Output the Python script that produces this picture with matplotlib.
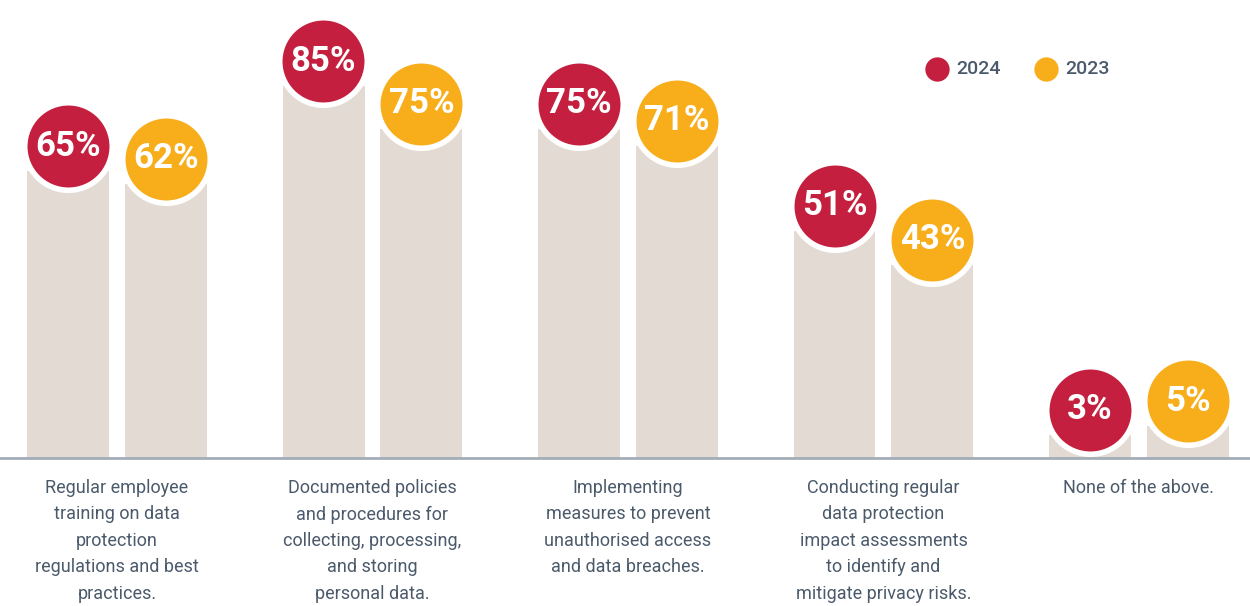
import numpy as np
import matplotlib
matplotlib.use('Agg')
import matplotlib.pyplot as plt
from matplotlib.transforms import offset_copy

plt.rcParams['font.family'] = ['Roboto', 'DejaVu Sans']

categories = ['Regular employee\ntraining on data\nprotection\nregulations and best\npractices.',
              'Documented policies\nand procedures for\ncollecting, processing,\nand storing\npersonal data.',
              'Implementing\nmeasures to prevent\nunauthorised access\nand data breaches.',
              'Conducting regular\ndata protection\nimpact assessments\nto identify and\nmitigate privacy risks.',
              'None of the above.']
years = ['2024', '2023']
vals_2024 = [65, 85, 75, 51, 3]
vals_2023 = [62, 75, 71, 43, 5]

red = '#c41f3e'
yellow = '#f8ae1b'
bar_col = '#e3dbd3'
txt_col = '#4b5a6b'
line_col = '#a3adb8'

W, H = 1250, 606
fig = plt.figure(figsize=(W / 100, H / 100), dpi=100)
ax = fig.add_axes([0, 0, 1, 1])

spacing = 255.5          # px between groups
s = 4.25                 # px per percent
pad = 2.5                # bars start a little below zero
base_px = 148            # baseline height above bottom of image
x0 = 117                 # px of first group centre

ax.set_xlim(-x0 / spacing, (W - x0) / spacing)
ax.set_ylim(-pad - base_px / s, -pad + (H - base_px) / s)
ax.axis('off')

x = np.arange(len(categories))
bw = 82 / spacing
off = 49 / spacing

# circles sit a bit above the top of each bar
circ_tr = offset_copy(ax.transData, fig=fig, x=0, y=25, units='dots')

for vals, dx, col in [(vals_2024, -off, red), (vals_2023, off, yellow)]:
    v = np.array(vals, dtype=float)
    ax.bar(x + dx, v + pad, bottom=-pad, width=bw, color=bar_col, zorder=1)
    ax.scatter(x + dx, v, s=63 ** 2, color=col, edgecolor='white', linewidth=4,
               transform=circ_tr, zorder=3)
    for xi, vi in zip(x + dx, vals):
        ax.text(xi, vi, f'{vi}%', transform=circ_tr, ha='center', va='center',
                color='white', fontsize=25, fontweight='bold', zorder=4)

ax.axhline(-pad, color=line_col, linewidth=2, zorder=2)

for xi, lab in zip(x, categories):
    ax.text(xi, -pad - 21 / s, lab, ha='center', va='top', color=txt_col,
            fontsize=13, linespacing=1.6)

# legend
for lx, col, yr in [(937, red, years[0]), (1046, yellow, years[1])]:
    ax.scatter([lx / W], [1 - 69 / H], s=17.5 ** 2, color=col, transform=ax.transAxes,
               zorder=3, linewidth=0)
    ax.text((lx + 19) / W, 1 - 69 / H, yr, transform=ax.transAxes, ha='left',
            va='center', color=txt_col, fontsize=14, fontweight='medium')

fig.savefig('out.png', dpi=100, facecolor='white')
